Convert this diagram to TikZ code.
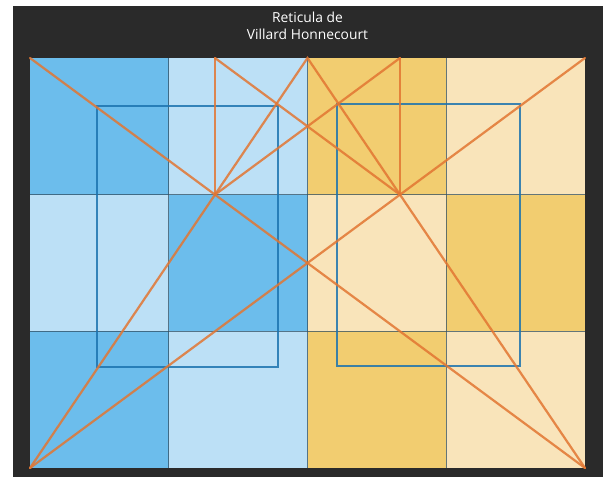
\documentclass[tikz,border=0pt]{standalone}
\usepackage{fontspec}
\setmainfont{Open Sans}
\usepackage{tikz}
\definecolor{fond}{RGB}{42,42,42}
\definecolor{bleufonce}{RGB}{108,189,236}
\definecolor{bleuclair}{RGB}{188,224,246}
\definecolor{jaune}{RGB}{242,205,112}
\definecolor{jauneclair}{RGB}{249,228,186}
\definecolor{trait}{RGB}{226,118,50}
\definecolor{cadre}{RGB}{28,115,175}
\definecolor{grille}{RGB}{50,80,100}

\begin{document}
\begin{tikzpicture}[x=0.03cm,y=-0.03cm,
    grillage/.style={grille,line width=0.8pt,opacity=0.75},
    marge/.style={cadre,line width=2.3pt,opacity=0.85},
    diag/.style={trait,line width=1.9pt,opacity=0.85,line cap=round}]
  \useasboundingbox (0,0) rectangle (603,477);
  \fill[fond] (13,6) rectangle (603,477);
  % cases de la grille
  \foreach \i/\j/\col in {0/0/bleufonce,1/0/bleuclair,2/0/jaune,3/0/jauneclair,
                          0/1/bleuclair,1/1/bleufonce,2/1/jauneclair,3/1/jaune,
                          0/2/bleufonce,1/2/bleuclair,2/2/jaune,3/2/jauneclair}
    \fill[\col] ({30+138.75*\i},{58+136.67*\j}) rectangle ++(138.75,136.67);
  \foreach \i in {1,2,3}
    \draw[grillage] ({30+138.75*\i},58) -- ({30+138.75*\i},468);
  \foreach \j in {1,2}
    \draw[grillage] (30,{58+136.67*\j}) -- (585,{58+136.67*\j});
  % points du trace
  \coordinate (A) at (30,58);   \coordinate (B) at (585,58);
  \coordinate (C) at (30,468);  \coordinate (D) at (585,468);
  \coordinate (M) at (307.5,58);
  \coordinate (G) at (215,194.7); \coordinate (Gh) at (215,58);
  \coordinate (H) at (400,194.7); \coordinate (Hh) at (400,58);
  % cadres
  \draw[marge] (97,106) rectangle (278,367);
  \draw[marge] (337,104) rectangle (520,366);
  % diagonales
  \draw[diag] (A) -- (D);
  \draw[diag] (B) -- (C);
  \draw[diag] (C) -- (M) -- (D);
  \draw[diag] (Gh) -- (G);
  \draw[diag] (Hh) -- (H);
  \draw[diag] (Gh) -- (H);
  \draw[diag] (Hh) -- (G);
  \node[white,font=\fontsize{11.8}{14}\selectfont,align=center] (titre) at (307.5,26)
    {Reticula de\\Villard Honnecourt};
\end{tikzpicture}
\end{document}
